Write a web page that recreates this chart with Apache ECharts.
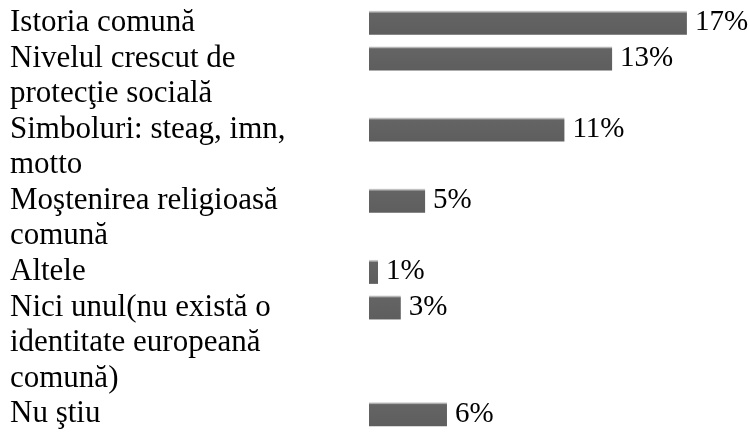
<!DOCTYPE html>
<html>
<head>
<meta charset="utf-8">
<title>Identitate europeană</title>
<script src="https://cdn.jsdelivr.net/npm/echarts@6/dist/echarts.min.js"></script>
<style>
  html, body { margin: 0; padding: 0; background: #fff; }
  #chart { width: 750px; height: 432px; }
</style>
</head>
<body>
<div id="chart"></div>
<script>
// categories, wrapped the way the picture wraps them
const categories = [
  'Istoria comună',
  'Nivelul crescut de\nprotecţie socială',
  'Simboluri: steag, imn,\nmotto',
  'Moştenirea religioasă\ncomună',
  'Altele',
  'Nici unul(nu există o\nidentitate europeană\ncomună)',
  'Nu ştiu'
];
// bar lengths as drawn (in %)
const values = [17, 13, 10.45, 3, 0.48, 1.7, 4.17];
// percentages printed next to the bars
const valueLabels = ['17%', '13%', '11%', '5%', '1%', '3%', '6%'];

// one axis slot per text line, the bar sits on the first line of its label
let lines = [];
let lineValues = [];
let lineLabels = [];
categories.forEach(function (c, i) {
  c.split('\n').forEach(function (txt, j) {
    lines.push(txt);
    lineValues.push(j === 0 ? values[i] : '-');
    lineLabels.push(j === 0 ? valueLabels[i] : '');
  });
});

const font = '"Liberation Serif", "Times New Roman", serif';
let chart = echarts.init(document.getElementById('chart'), null, { renderer: 'canvas' });

let option = {
  animation: false,
  grid: { left: 369, right: 7, top: 5, bottom: -1 },
  xAxis: {
    type: 'value',
    min: 0,
    max: 20,
    show: false
  },
  yAxis: {
    type: 'category',
    inverse: true,
    data: lines,
    axisLine: { show: false },
    axisTick: { show: false },
    splitLine: { show: false },
    axisLabel: {
      align: 'left',
      margin: 359,
      color: '#000',
      fontFamily: font,
      fontSize: 31,
      interval: 0
    }
  },
  series: [
    {
      type: 'bar',
      data: lineValues,
      barWidth: 24,
      itemStyle: {
        color: {
          type: 'linear', x: 0, y: 0, x2: 0, y2: 1,
          colorStops: [
            { offset: 0, color: '#e0e0e0' },
            { offset: 0.06, color: '#a8a8a8' },
            { offset: 0.1, color: '#646464' },
            { offset: 1, color: '#5e5e5e' }
          ]
        }
      },
      label: {
        show: true,
        position: 'right',
        distance: 8,
        color: '#000',
        fontFamily: font,
        fontSize: 29,
        formatter: function (p) { return lineLabels[p.dataIndex]; }
      }
    }
  ]
};
chart.setOption(option);
</script>
</body>
</html>
